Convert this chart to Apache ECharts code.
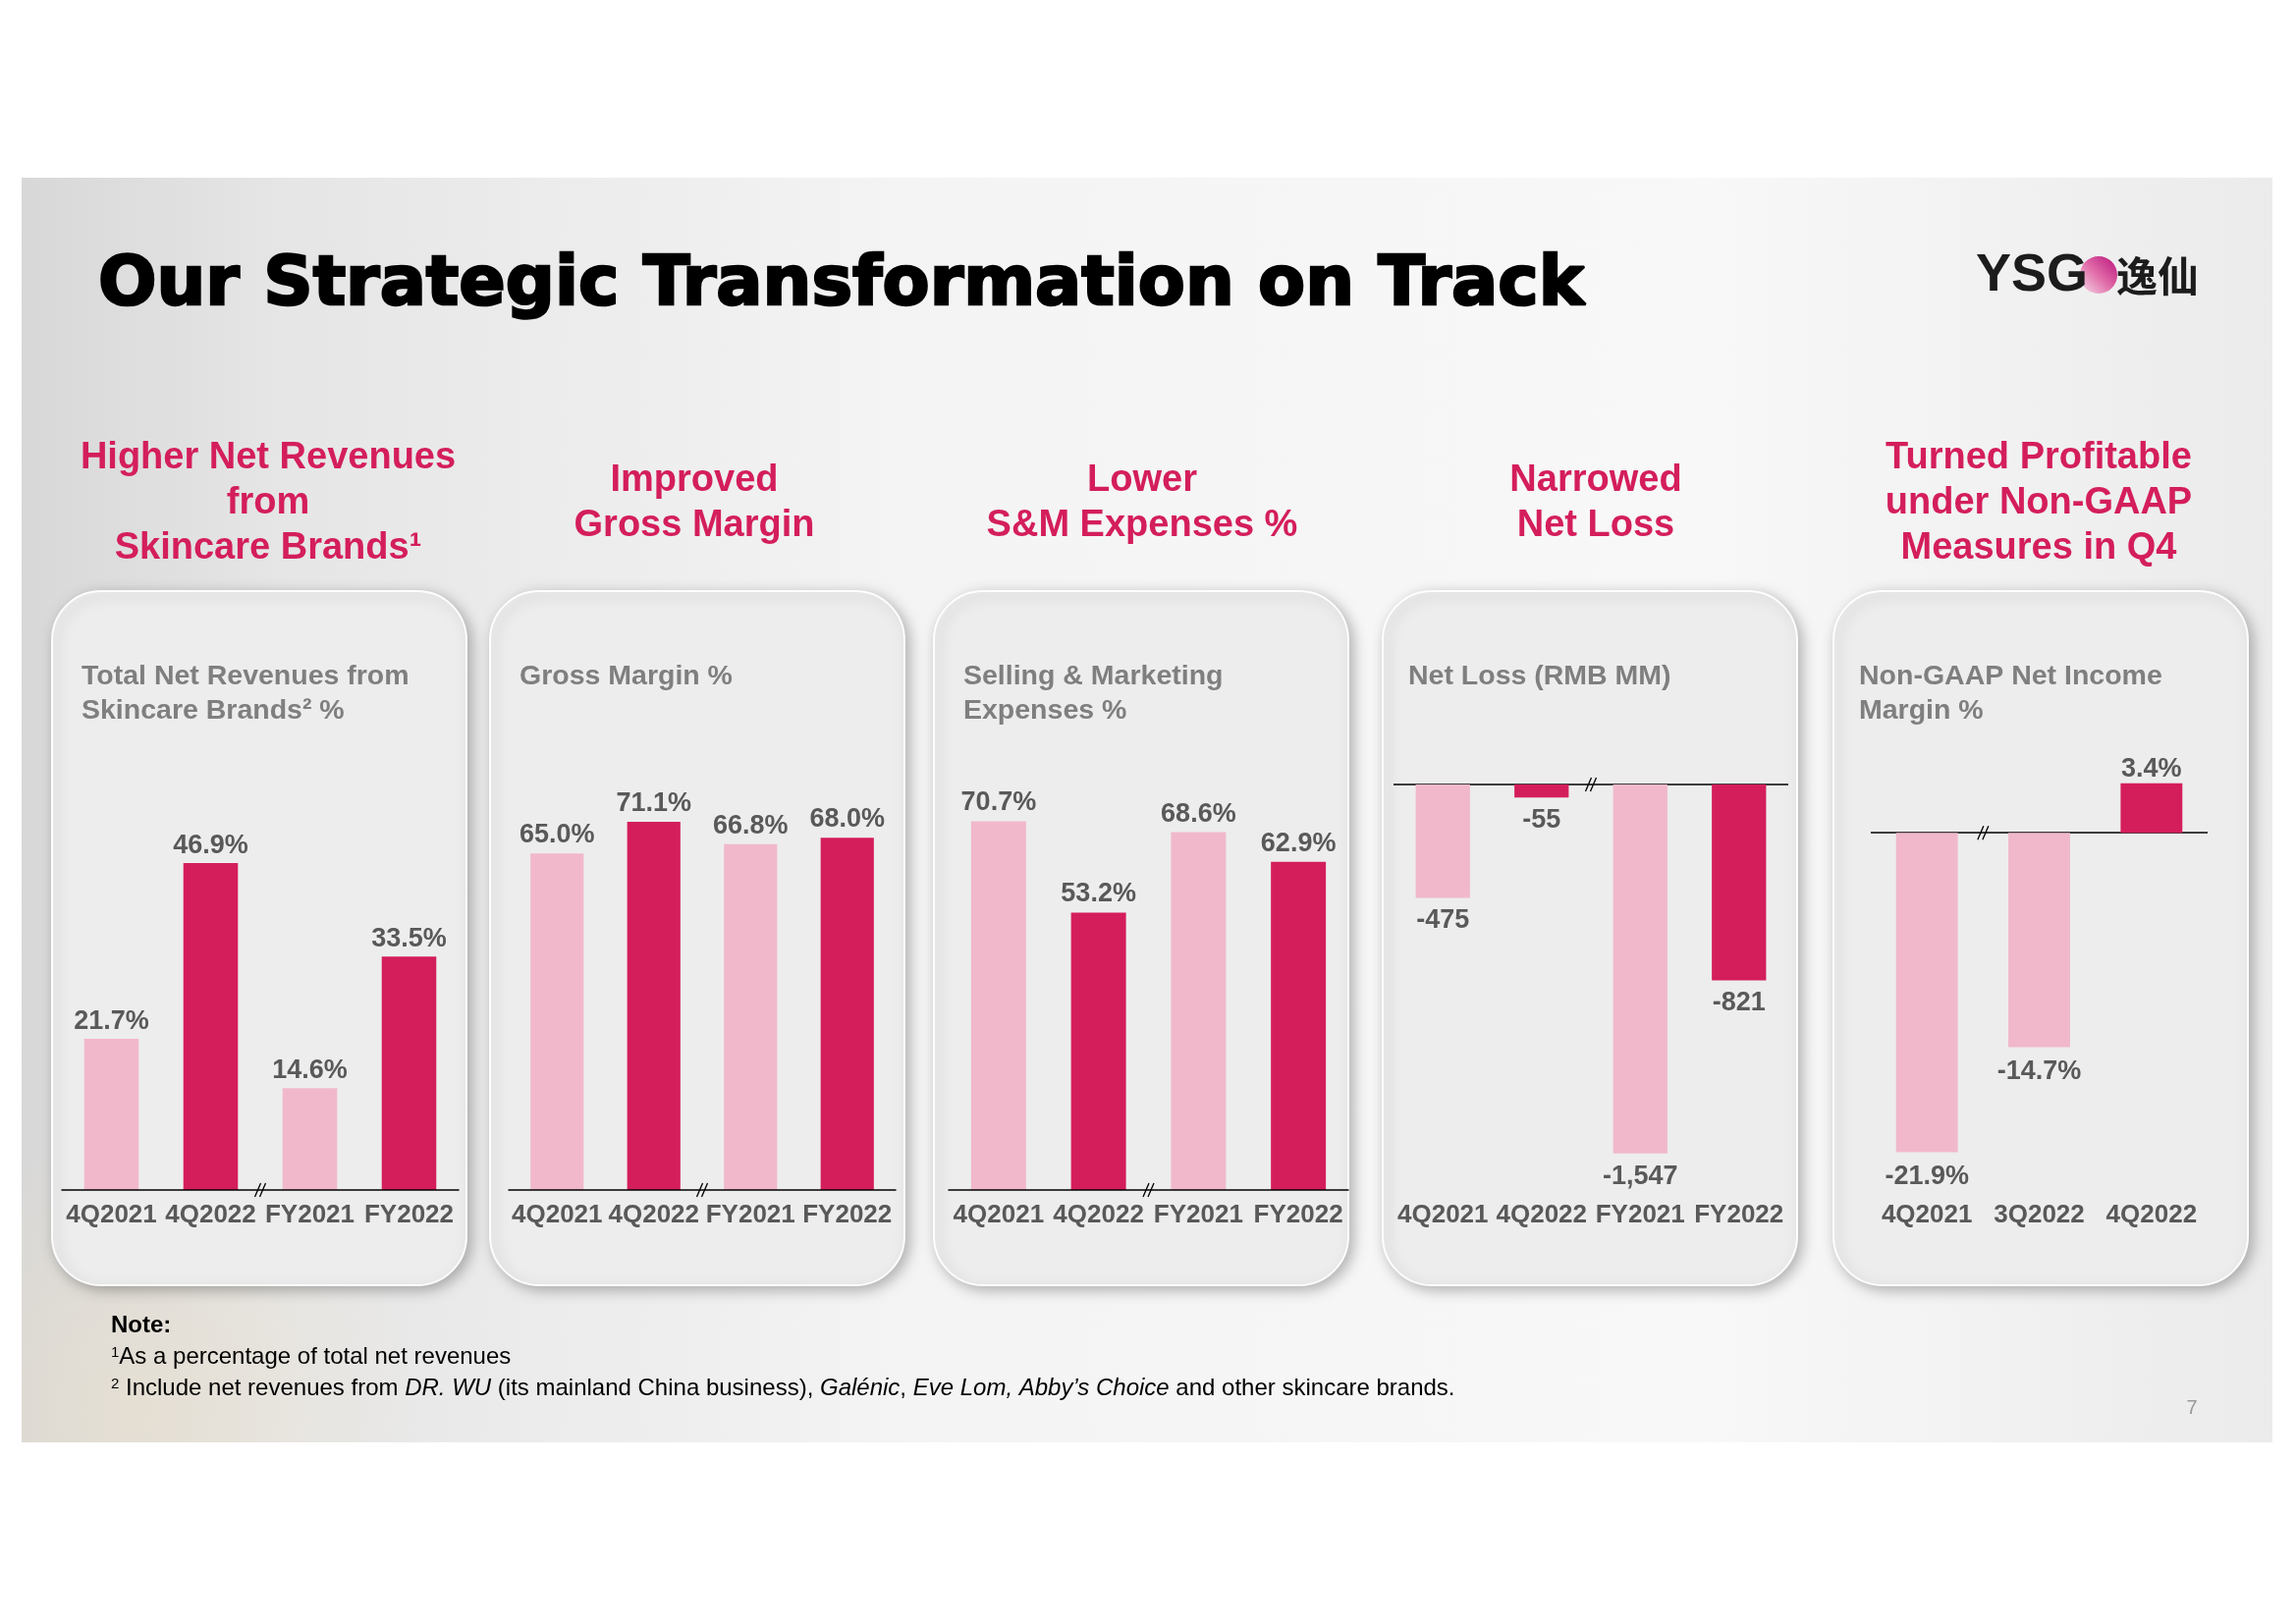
<!DOCTYPE html>
<html>
<head>
<meta charset="utf-8">
<script src="https://cdn.jsdelivr.net/npm/echarts@6/dist/echarts.min.js"></script>
<style>
html,body{margin:0;padding:0;background:#fff;}
#main{width:2338px;height:1653px;}
</style>
</head>
<body>
<div id="main"></div>
<script>
// ---------------- DATA ----------------
const periodCats = ['4Q2021', '4Q2022', 'FY2021', 'FY2022'];
const quarterCats = ['4Q2021', '3Q2022', '4Q2022'];
const skincareShare = [21.7, 46.9, 14.6, 33.5];      // % of total net revenues
const grossMargin = [65.0, 71.1, 66.8, 68.0];         // %
const smExpenses = [70.7, 53.2, 68.6, 62.9];          // %
const netLoss = [-475, -55, -1547, -821];             // RMB MM
const nonGaapMargin = [-21.9, -14.7, 3.4];            // %

const headings = [
  'Higher Net Revenues\nfrom\nSkincare Brands¹',
  'Improved\nGross Margin',
  'Lower\nS&M Expenses %',
  'Narrowed\nNet Loss',
  'Turned Profitable\nunder Non-GAAP\nMeasures in Q4'
];
const panelTitles = [
  'Total Net Revenues from\nSkincare Brands² %',
  'Gross Margin %',
  'Selling & Marketing\nExpenses %',
  'Net Loss (RMB MM)',
  'Non-GAAP Net Income\nMargin %'
];

// ---------------- STYLE / LAYOUT ----------------
const LIGHT = '#F1B8CB', DARK = '#D41E5C', LABEL = '#595959', PINK_TXT = '#D41E5C';
const FONT = '"Liberation Sans", Arial, Helvetica, sans-serif';
const pct = v => v.toFixed(1) + '%';
const num = v => v.toLocaleString('en-US');

const panels = [
  {cats: periodCats, vals: skincareShare, fmt: pct, grid: {left: 63, width: 404, top: 786, height: 426}, min: 0, max: 60, shades: [LIGHT, DARK, LIGHT, DARK], zeroLine: false, brk: 1, dUp: 4, dDown: 6},
  {cats: periodCats, vals: grossMargin, fmt: pct, grid: {left: 518, width: 394, top: 790, height: 422}, min: 0, max: 80, shades: [LIGHT, DARK, LIGHT, DARK], zeroLine: false, brk: 1, dUp: 5, dDown: 6},
  {cats: periodCats, vals: smExpenses, fmt: pct, grid: {left: 966, width: 407, top: 787, height: 425}, min: 0, max: 80, shades: [LIGHT, DARK, LIGHT, DARK], zeroLine: false, brk: 1, dUp: 5, dDown: 6},
  {cats: periodCats, vals: netLoss, fmt: num, grid: {left: 1419, width: 402, top: 799, height: 413}, min: -1700, max: 0, shades: [LIGHT, DARK, LIGHT, DARK], zeroLine: true, brk: 1, dUp: 5, dDown: 10},
  {cats: quarterCats, vals: nonGaapMargin, fmt: pct, grid: {left: 1905, width: 343, top: 774, height: 438}, min: -24.5, max: 5, shades: [LIGHT, LIGHT, DARK], zeroLine: true, brk: 0, dUp: 1, dDown: 12}
];

const cards = [53, 499, 951, 1408, 1867];
const headingX = [273, 707, 1163, 1625, 2076];
const titleX = [83, 529, 981, 1434, 1893];

const chart = echarts.init(document.getElementById('main'), null, {renderer: 'canvas'});

const grids = [], xAxes = [], yAxes = [], series = [];
panels.forEach((p, i) => {
  grids.push(Object.assign({containLabel: false, outerBoundsMode: 'none'}, p.grid));
  xAxes.push({
    type: 'category', gridIndex: i, data: p.cats, z: 6,
    axisTick: {show: false},
    axisLine: {show: !p.zeroLine, onZero: !p.zeroLine, lineStyle: {color: '#000', width: 1.5}},
    axisLabel: {interval: 0, margin: 13, color: LABEL, fontWeight: 'bold', fontSize: 26, fontFamily: FONT},
    splitLine: {show: false}
  });
  yAxes.push({type: 'value', gridIndex: i, min: p.min, max: p.max, show: false, splitLine: {show: false}});
  const s = {
    type: 'bar', xAxisIndex: i, yAxisIndex: i, barWidth: '55%', z: 5,
    data: p.vals.map((v, k) => ({
      value: v,
      itemStyle: {color: p.shades[k]},
      label: {position: v < 0 ? 'bottom' : 'top', distance: v < 0 ? p.dDown : p.dUp}
    })),
    label: {show: true, color: LABEL, fontWeight: 'bold', fontSize: 27, fontFamily: FONT,
      formatter: prm => p.fmt(prm.value)}
  };
  if (p.zeroLine) {
    s.markLine = {silent: true, symbol: ['none', 'none'], label: {show: false},
      lineStyle: {color: '#000', width: 1.5, type: 'solid'}, data: [{yAxis: 0}]};
  }
  series.push(s);
});

const graphics = [];
// slide background
graphics.push({type: 'rect', id: 'bg', z: -5, shape: {x: 22, y: 181, width: 2292, height: 1288},
  style: {fill: new echarts.graphic.LinearGradient(0, 0, 1, 0, [
    {offset: 0, color: '#d8d8d8'}, {offset: 0.12, color: '#e6e6e6'}, {offset: 0.4, color: '#f4f4f4'},
    {offset: 0.75, color: '#f8f8f8'}, {offset: 1, color: '#ebebeb'}])}});
graphics.push({type: 'rect', id: 'bgwarm', z: -4, shape: {x: 22, y: 1150, width: 1200, height: 319},
  style: {fill: new echarts.graphic.RadialGradient(0.1, 0.9, 0.9, [
    {offset: 0, color: 'rgba(238,224,198,0.45)'}, {offset: 1, color: 'rgba(238,224,198,0)'}])}});
// cards
cards.forEach((x, i) => {
  graphics.push({type: 'rect', id: 'card' + i, z: -3,
    shape: {x: x, y: 602, width: 422, height: 707, r: 50},
    style: {fill: '#ededed', stroke: 'rgba(255,255,255,0.95)', lineWidth: 2,
      shadowBlur: 14, shadowColor: 'rgba(0,0,0,0.28)', shadowOffsetX: 4, shadowOffsetY: 4}});
});
// title
graphics.push({type: 'text', id: 'title', z: 1, x: 100, y: 292,
  style: {text: 'Our Strategic Transformation on Track', fill: '#000', stroke: '#000', lineWidth: 2.5,
    fontSize: 70, fontWeight: 'bold',
    fontFamily: '"DejaVu Sans", sans-serif', verticalAlign: 'middle', align: 'left'}});
// logo
graphics.push({type: 'circle', id: 'logoDot', z: 0, shape: {cx: 2137, cy: 280, r: 19},
  style: {fill: new echarts.graphic.LinearGradient(1, 0, 0, 1, [
    {offset: 0, color: '#b8127a'}, {offset: 0.5, color: '#e06aa8'}, {offset: 1, color: '#f6dce8'}])}});
graphics.push({type: 'text', id: 'logoYSG', z: 1, x: 2012, y: 281,
  style: {text: 'YSG', fill: '#1c1c1c', fontSize: 54, fontWeight: 'bold', fontFamily: FONT, verticalAlign: 'middle'}});
graphics.push({type: 'text', id: 'logoCN', z: 1, x: 2155, y: 281,
  style: {text: '逸仙', fill: '#1c1c1c', fontSize: 42, fontWeight: 'bold', fontFamily: '"Noto Sans CJK SC", sans-serif', verticalAlign: 'middle'}});
// headings and panel titles
headings.forEach((t, i) => {
  graphics.push({type: 'text', id: 'head' + i, z: 1, x: headingX[i], y: 513,
    style: {text: t, fill: PINK_TXT, fontSize: 38, fontWeight: 'bold', fontFamily: FONT,
      lineHeight: 46, align: 'center', verticalAlign: 'middle'}});
});
panelTitles.forEach((t, i) => {
  graphics.push({type: 'text', id: 'ptitle' + i, z: 1, x: titleX[i], y: 672,
    style: {text: t, fill: '#7f7f7f', fontSize: 28.5, fontWeight: 'bold', fontFamily: FONT,
      lineHeight: 35, align: 'left', verticalAlign: 'top'}});
});
// notes
graphics.push({type: 'text', id: 'note0', z: 1, x: 113, y: 1350,
  style: {text: 'Note:', fill: '#000', fontSize: 24, fontWeight: 'bold', fontFamily: FONT, verticalAlign: 'middle'}});
graphics.push({type: 'text', id: 'note1', z: 1, x: 113, y: 1382,
  style: {text: '{s|1}As a percentage of total net revenues', fill: '#000', fontSize: 24, fontFamily: FONT, verticalAlign: 'middle',
    rich: {s: {fontSize: 15, verticalAlign: 'top', fontFamily: FONT}}}});
graphics.push({type: 'text', id: 'note2', z: 1, x: 113, y: 1414,
  style: {text: '{s|2} Include net revenues from {i|DR. WU} (its mainland China business), {i|Galénic}, {i|Eve Lom, Abby’s Choice} and other skincare brands.',
    fill: '#000', fontSize: 24, fontFamily: FONT, verticalAlign: 'middle',
    rich: {s: {fontSize: 15, verticalAlign: 'top', fontFamily: FONT}, i: {fontStyle: 'italic', fontSize: 24, fontFamily: FONT}}}});
graphics.push({type: 'text', id: 'page', z: 1, x: 2232, y: 1434,
  style: {text: '7', fill: '#9a9a9a', fontSize: 20, fontFamily: FONT, verticalAlign: 'middle', align: 'center'}});

chart.setOption({
  animation: false,
  backgroundColor: '#ffffff',
  grid: grids, xAxis: xAxes, yAxis: yAxes, series: series,
  graphic: graphics
});

// axis break marks "//" at the boundary between two categories, placed via the axes
const breaks = [];
panels.forEach((p, i) => {
  const xa = chart.convertToPixel({xAxisIndex: i}, p.cats[p.brk]);
  const xb = chart.convertToPixel({xAxisIndex: i}, p.cats[p.brk + 1]);
  const x = (xa + xb) / 2;
  const y = chart.convertToPixel({yAxisIndex: i}, 0);
  [-2.5, 2.5].forEach((off, k) => {
    breaks.push({type: 'line', id: 'brk' + i + '_' + k, z: 20,
      shape: {x1: x + off - 3, y1: y + 7, x2: x + off + 3, y2: y - 7},
      style: {stroke: '#000', lineWidth: 1.3}});
  });
});
chart.setOption({graphic: graphics.concat(breaks)});
</script>
</body>
</html>
